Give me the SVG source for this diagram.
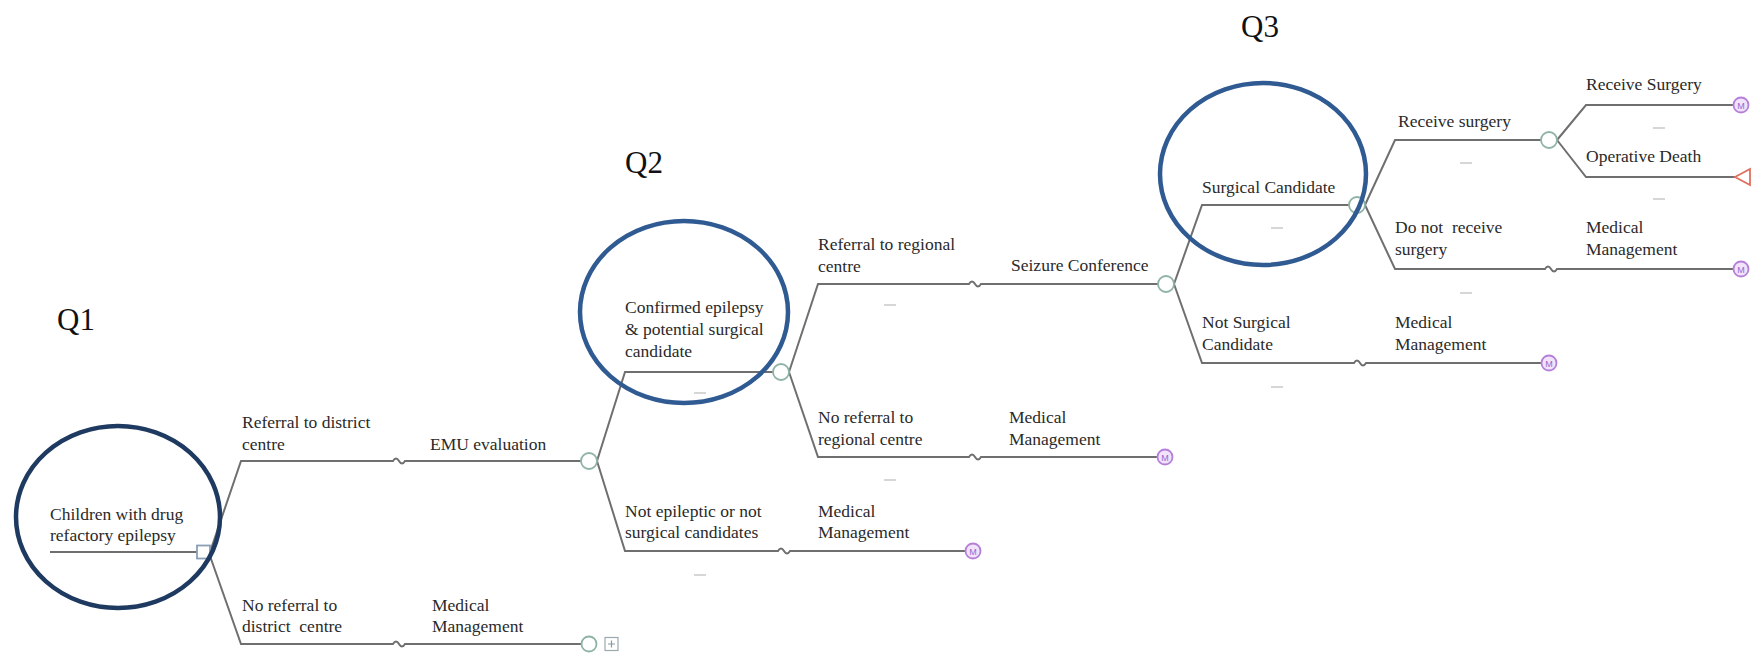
<svg xmlns="http://www.w3.org/2000/svg" width="1752" height="653" viewBox="0 0 1752 653">
<defs>
<style>
.ln{fill:none;stroke:#6f6f6f;stroke-width:2}
.t{font-family:"Liberation Serif",serif;font-size:17.5px;fill:#2a2a2a;white-space:pre}
.q{font-family:"Liberation Serif",serif;font-size:31px;fill:#111}
.ch{fill:#fff;stroke:#8fb3a6;stroke-width:1.8}
.mk{fill:#f0e3fa;stroke:#b57fd9;stroke-width:1.8}
.mt{font-family:"Liberation Sans",sans-serif;font-size:9px;fill:#a064cc;text-anchor:middle}
.ds{stroke:#c8c8c8;stroke-width:1.5}
.el{fill:none;stroke-width:4.5}
</style>
</defs>
<rect width="1752" height="653" fill="#fff"/>

<g id="connectors">
<path class="ln" d="M50,552 H197"/>
<path class="ln" d="M210,552 L241,461 H393 q3,-5 6,0 q3,5 6,0 H581"/>
<path class="ln" d="M210,556 L241,644 H393 q3,-5 6,0 q3,5 6,0 H582"/>
<path class="ln" d="M597,461 L625,372 H773"/>
<path class="ln" d="M597,461 L625,551 H778 q3,-5 6,0 q3,5 6,0 H965"/>
<path class="ln" d="M789,372 L818,284 H969 q3,-5 6,0 q3,5 6,0 H1158"/>
<path class="ln" d="M789,372 L818,457 H969 q3,-5 6,0 q3,5 6,0 H1157"/>
<path class="ln" d="M1174,284 L1202,205 H1349"/>
<path class="ln" d="M1174,284 L1202,363 H1354 q3,-5 6,0 q3,5 6,0 H1541"/>
<path class="ln" d="M1365,205 L1395,140 H1541"/>
<path class="ln" d="M1365,205 L1395,269 H1545 q3,-5 6,0 q3,5 6,0 H1733"/>
<path class="ln" d="M1557,140 L1586,105 H1733"/>
<path class="ln" d="M1557,140 L1586,177 H1735"/>
</g>

<g id="root">
<rect x="197" y="545.5" width="13" height="13" fill="#fff" stroke="#8a9fb5" stroke-width="1.8"/>
<text class="t" x="50" y="520">Children with drug</text>
<text class="t" x="50" y="541">refactory epilepsy</text>
</g>

<g id="referral-district">
<text class="t" x="242" y="428">Referral to district</text>
<text class="t" x="242" y="450">centre</text>
<text class="t" x="430" y="450">EMU evaluation</text>
<circle class="ch" cx="589" cy="461" r="8"/>
</g>

<g id="no-referral-district">
<text class="t" x="242" y="611">No referral to</text>
<text class="t" x="242" y="632">district  centre</text>
<text class="t" x="432" y="611">Medical</text>
<text class="t" x="432" y="632">Management</text>
<circle class="ch" cx="589" cy="644" r="7.5"/>
<rect x="605" y="637.5" width="13" height="13" fill="#fff" stroke="#9aaab0" stroke-width="1.2"/>
<path d="M608,644 H615 M611.5,640.5 V647.5" stroke="#8a9aa0" stroke-width="1.2"/>
</g>

<g id="confirmed">
<text class="t" x="625" y="313">Confirmed epilepsy</text>
<text class="t" x="625" y="335">&amp; potential surgical</text>
<text class="t" x="625" y="357">candidate</text>
<line class="ds" x1="694" y1="393" x2="706" y2="393"/>
<circle class="ch" cx="781" cy="372" r="8"/>
</g>

<g id="not-epileptic">
<text class="t" x="625" y="517">Not epileptic or not</text>
<text class="t" x="625" y="538">surgical candidates</text>
<text class="t" x="818" y="517">Medical</text>
<text class="t" x="818" y="538">Management</text>
<line class="ds" x1="694" y1="575" x2="706" y2="575"/>
<circle class="mk" cx="973" cy="551" r="7.5"/>
<text class="mt" x="973" y="554.5">M</text>
</g>

<g id="referral-regional">
<text class="t" x="818" y="250">Referral to regional</text>
<text class="t" x="818" y="272">centre</text>
<line class="ds" x1="884" y1="305" x2="896" y2="305"/>
<text class="t" x="1011" y="271">Seizure Conference</text>
<circle class="ch" cx="1166" cy="284" r="8"/>
</g>

<g id="no-referral-regional">
<text class="t" x="818" y="423">No referral to</text>
<text class="t" x="818" y="445">regional centre</text>
<text class="t" x="1009" y="423">Medical</text>
<text class="t" x="1009" y="445">Management</text>
<line class="ds" x1="884" y1="480" x2="896" y2="480"/>
<circle class="mk" cx="1165" cy="457" r="7.5"/>
<text class="mt" x="1165" y="460.5">M</text>
</g>

<g id="surgical-candidate">
<text class="t" x="1202" y="193">Surgical Candidate</text>
<line class="ds" x1="1271" y1="228" x2="1283" y2="228"/>
<circle class="ch" cx="1357" cy="205" r="8"/>
</g>

<g id="not-surgical-candidate">
<text class="t" x="1202" y="328">Not Surgical</text>
<text class="t" x="1202" y="350">Candidate</text>
<text class="t" x="1395" y="328">Medical</text>
<text class="t" x="1395" y="350">Management</text>
<line class="ds" x1="1271" y1="387" x2="1283" y2="387"/>
<circle class="mk" cx="1549" cy="363" r="7.5"/>
<text class="mt" x="1549" y="366.5">M</text>
</g>

<g id="receive-surgery">
<text class="t" x="1398" y="127">Receive surgery</text>
<line class="ds" x1="1460" y1="163" x2="1472" y2="163"/>
<circle class="ch" cx="1549" cy="140" r="8"/>
</g>

<g id="do-not-receive-surgery">
<text class="t" x="1395" y="233">Do not  receive</text>
<text class="t" x="1395" y="255">surgery</text>
<text class="t" x="1586" y="233">Medical</text>
<text class="t" x="1586" y="255">Management</text>
<line class="ds" x1="1460" y1="293" x2="1472" y2="293"/>
<circle class="mk" cx="1741" cy="269" r="7.5"/>
<text class="mt" x="1741" y="272.5">M</text>
</g>

<g id="receive-surgery-outcome">
<text class="t" x="1586" y="90">Receive Surgery</text>
<line class="ds" x1="1653" y1="128" x2="1665" y2="128"/>
<circle class="mk" cx="1741" cy="105" r="7.5"/>
<text class="mt" x="1741" y="108.5">M</text>
</g>

<g id="operative-death">
<text class="t" x="1586" y="162">Operative Death</text>
<line class="ds" x1="1653" y1="199" x2="1665" y2="199"/>
<polygon points="1735,177 1750,169 1750,185" fill="#fff" stroke="#e0705f" stroke-width="1.8"/>
</g>

<g id="q-labels">
<text class="q" x="57" y="330">Q1</text>
<text class="q" x="625" y="173">Q2</text>
<text class="q" x="1241" y="37">Q3</text>
</g>

<g id="highlights">
<ellipse class="el" cx="118" cy="517" rx="102" ry="91" stroke="#1f3a60"/>
<ellipse class="el" cx="684" cy="312" rx="104" ry="91" stroke="#2f5a92"/>
<ellipse class="el" cx="1263" cy="174" rx="103" ry="91" stroke="#2f5a92"/>
</g>
</svg>
